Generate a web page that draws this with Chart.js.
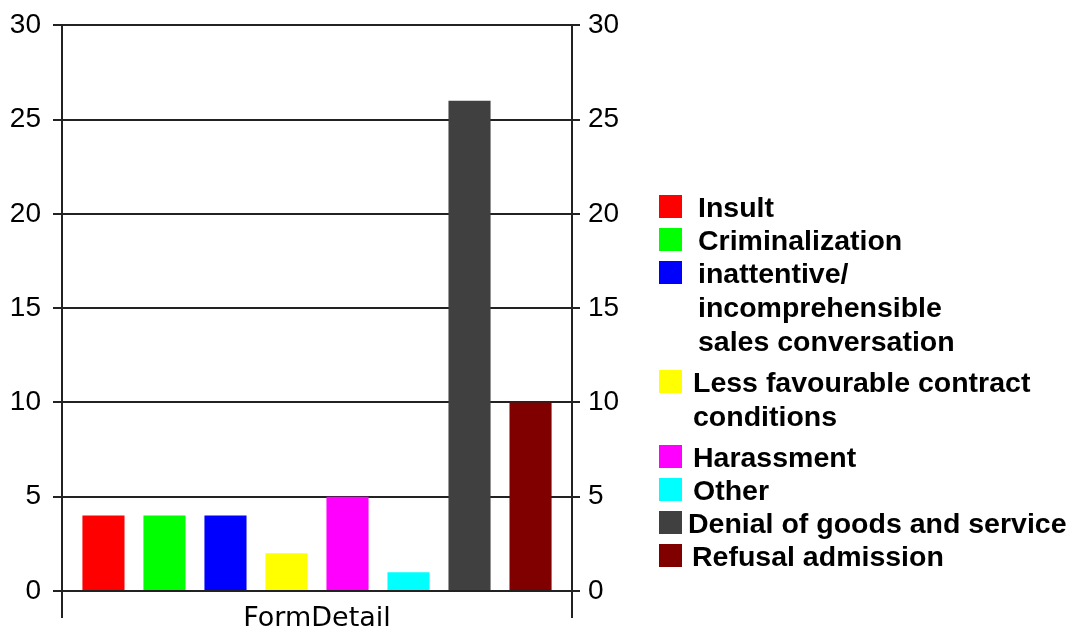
<!DOCTYPE html>
<html>
<head>
<meta charset="utf-8">
<style>
  html, body { margin: 0; padding: 0; background: #ffffff; }
  #wrap { width: 1074px; height: 632px; }
</style>
<script src="https://cdn.jsdelivr.net/npm/chart.js@4/dist/chart.umd.min.js"></script>
</head>
<body>
<div id="wrap"><canvas id="chart" width="1074" height="632"></canvas></div>
<script>
// Category on the x axis
const categories = ['FormDetail'];

// One series per form of discrimination (legend lines per series)
const seriesNames = [
  ['Insult'],
  ['Criminalization'],
  ['inattentive/', 'incomprehensible', 'sales conversation'],
  ['Less favourable contract', 'conditions'],
  ['Harassment'],
  ['Other'],
  ['Denial of goods and service'],
  ['Refusal admission']
];
const seriesValues = [4, 4, 4, 2, 5, 1, 26, 10];
const seriesColors = ['#ff0000', '#00ff00', '#0000ff', '#ffff00', '#ff00ff', '#00ffff', '#404040', '#800000'];

// Value axis
const yMin = 0;
const yMax = 30;
const yStep = 5;

const LINE = '#222222';
const TICK_FONT = { family: '"Liberation Sans", Arial, sans-serif', size: 28, lineHeight: 0.95 };

const datasets = seriesNames.map((name, i) => ({
  label: name.join(' '),
  legendLines: name,
  data: [seriesValues[i]],
  backgroundColor: seriesColors[i],
  borderWidth: 0,
  barPercentage: 0.69,
  categoryPercentage: 0.957
}));

// Legend drawn to the right of the plot, with wrapped multi-line entries
const sideLegend = {
  id: 'sideLegend',
  afterDraw(chart) {
    const ctx = chart.ctx;
    const boxX = 659, box = 23, lineH = 34;
    const textX = [698, 698, 698, 693, 693, 693, 688, 692];
    let top = 195;
    ctx.save();
    ctx.font = 'bold 28.5px "Liberation Sans", Arial, sans-serif';
    ctx.textBaseline = 'alphabetic';
    ctx.textAlign = 'left';
    chart.data.datasets.forEach((ds, i) => {
      const lines = ds.legendLines;
      ctx.fillStyle = ds.backgroundColor;
      ctx.fillRect(boxX, top, box, box);
      ctx.fillStyle = '#000';
      lines.forEach((t, k) => {
        ctx.fillText(t, textX[i], top + 22 + k * lineH);
      });
      top += 33 + (lines.length - 1) * lineH + (lines.length > 1 ? 8 : 0);
    });
    ctx.restore();
  }
};

new Chart(document.getElementById('chart'), {
  type: 'bar',
  data: { labels: categories, datasets },
  plugins: [sideLegend],
  options: {
    responsive: false,
    animation: false,
    layout: { padding: 0 },
    plugins: { legend: { display: false }, tooltip: { enabled: false } },
    scales: {
      x: {
        type: 'category',
        offset: true,
        grid: { display: true, offset: true, color: LINE, lineWidth: 2, tickLength: 27, drawOnChartArea: true },
        border: { display: false },
        ticks: {
          color: '#000',
          padding: -15,
          font: { family: '"DejaVu Sans", sans-serif', size: 27 }
        },
        afterFit(scale) { scale.height = 41; }
      },
      y: {
        position: 'left',
        min: yMin, max: yMax,
        ticks: { stepSize: yStep, color: '#000', padding: 12, font: TICK_FONT },
        grid: { color: LINE, lineWidth: 2, tickLength: 9, drawOnChartArea: true },
        border: { display: true, color: LINE, width: 2 },
        afterFit(scale) { scale.width = 62; }
      },
      y2: {
        position: 'right',
        min: yMin, max: yMax,
        ticks: { stepSize: yStep, color: '#000', padding: 8, font: TICK_FONT },
        grid: { color: LINE, lineWidth: 2, tickLength: 8, drawOnChartArea: false },
        border: { display: true, color: LINE, width: 2 },
        afterFit(scale) { scale.width = 502; }
      }
    }
  }
});
</script>
</body>
</html>
